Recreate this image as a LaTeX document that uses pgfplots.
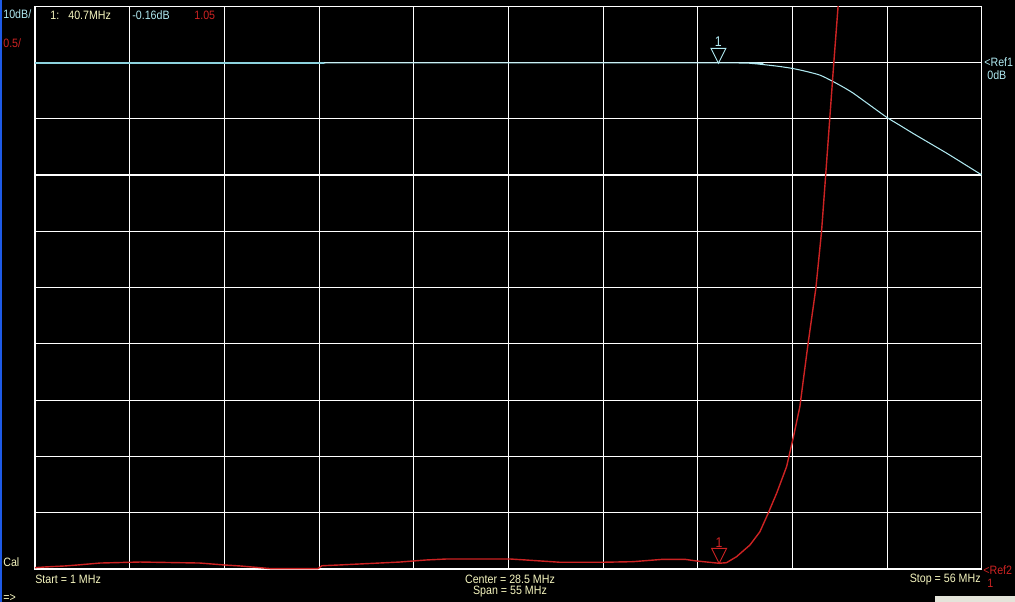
\documentclass[border=0pt]{standalone}
\usepackage{fontspec}
\setmainfont[FakeStretch=0.88]{Liberation Sans}
\usepackage{pgfplots}
\pgfplotsset{compat=1.18}

% analyser screen colours
\definecolor{scrbg}{RGB}{0,0,0}
\definecolor{tracecyan}{RGB}{175,232,240}
\definecolor{tracecyandim}{RGB}{140,210,222}
\definecolor{tracered}{RGB}{205,35,35}
\definecolor{txtyellow}{RGB}{245,245,190}
\definecolor{winblue}{RGB}{30,90,230}
\definecolor{btngray}{RGB}{228,228,218}

\pgfplotsset{screen/.style={
    at={(0.70cm,0.66cm)}, anchor=south west,
    width=18.94cm, height=11.26cm, scale only axis,
    xmin=1, xmax=56,
}}

\begin{document}
\begin{tikzpicture}[x=0.02cm, y=0.02cm,
    every node/.style={font=\fontsize{6.9}{8}\selectfont, inner sep=0pt}]
  \useasboundingbox (0,0) rectangle (1015,602);
  \fill[scrbg] (0,0) rectangle (1015,602);
  \fill[winblue] (0,0) rectangle (2,602);
  \fill[btngray] (935,0) rectangle (1015,6);

  % S21, 10 dB/div, Ref1 = 0 dB
  \begin{axis}[screen,
      ymin=-90, ymax=10,
      xtick={1,6.5,12,17.5,23,28.5,34,39.5,45,50.5,56},
      ytick={-90,-80,-70,-60,-50,-40,-30,-20,-10,0,10},
      xticklabels={}, yticklabels={},
      major tick length=0pt,
      grid=major, grid style={white, line width=0.6pt},
      axis line style={white, line width=0.6pt}]
    \addplot[tracecyandim, line width=0.6pt] coordinates {
      (1,-0.1) (17.8,-0.1)};
    \addplot[tracecyan, line width=0.6pt, smooth, tension=0.4] coordinates {
      (17.8,-0.1) (41.9,-0.1) (42.7,-0.2) (43.5,-0.45) (44.2,-0.7)
      (45.0,-1.07) (45.8,-1.6) (46.6,-2.26) (47.3,-3.3) (47.9,-4.3)
      (48.5,-5.4) (49.5,-7.6) (50.5,-9.8) (51.2,-11.1) (52.0,-12.6)
      (53.0,-14.4) (54.0,-16.2) (55.0,-18.1) (56,-20)};
    \draw[tracecyan, line width=0.5pt] (axis cs:40.7,-0.16)
      -- ++(-0.15cm,0.3cm) -- ++(0.3cm,0cm) -- cycle;
    \node[tracecyan, anchor=south, font=\fontsize{8}{9}\selectfont]
      at ([yshift=0.32cm]axis cs:40.7,-0.16) {1};
  \end{axis}

  % SWR, 0.5/div, Ref2 = 1
  \begin{axis}[screen, ymin=1, ymax=6, hide axis]
    \addplot[tracered, line width=0.8pt] coordinates {
      (1.0,1.012) (1.58,1.018) (2.74,1.027) (3.50,1.036) (4.78,1.053)
      (7.10,1.062) (10.58,1.053) (11.98,1.036) (12.91,1.027) (14.65,1.004)
      (17.44,1.004) (17.67,1.029) (18.71,1.036) (22.20,1.062) (23.71,1.080)
      (24.93,1.089) (28.59,1.089) (29.52,1.080) (31.49,1.060) (33.99,1.060)
      (35.73,1.065) (37.47,1.086) (38.75,1.086) (39.45,1.071) (40.74,1.051)
      (41.17,1.056) (41.75,1.109) (42.53,1.213) (43.11,1.331) (43.59,1.495)
      (44.08,1.672) (44.66,1.909) (45.04,2.161) (45.43,2.441) (45.91,3.004)
      (46.36,3.493) (46.69,3.996) (46.91,4.455) (47.40,5.491) (47.65,5.994)
      (47.70,6.10)};
    \draw[tracered, line width=0.5pt] (axis cs:40.74,1.05)
      -- ++(-0.15cm,0.3cm) -- ++(0.3cm,0cm) -- cycle;
    \node[tracered, anchor=south, font=\fontsize{8}{9}\selectfont]
      at ([yshift=0.32cm]axis cs:40.74,1.05) {1};
  \end{axis}

  % screen annotations
  \node[tracecyan, anchor=west] at (3,588) {10dB/};
  \node[tracered, anchor=west] at (3,559) {0.5/};
  \node[txtyellow, anchor=west] at (50,587) {1:};
  \node[txtyellow, anchor=west] at (68,587) {40.7MHz};
  \node[tracecyan, anchor=west] at (132,587) {-0.16dB};
  \node[tracered, anchor=west] at (194,587) {1.05};
  \node[tracecyan, anchor=west] at (984,540) {<Ref1};
  \node[tracecyan, anchor=west] at (987,527) {0dB};
  \node[txtyellow, anchor=west] at (3,40) {Cal};
  \node[txtyellow, anchor=west] at (35,23) {Start = 1 MHz};
  \node[txtyellow] at (510,23) {Center = 28.5 MHz};
  \node[txtyellow] at (510,10) {Span = 55 MHz};
  \node[txtyellow, anchor=east] at (981,22) {Stop = 56 MHz};
  \node[tracered, anchor=west] at (983,32) {<Ref2};
  \node[tracered, anchor=west] at (987,19) {1};
  \node[txtyellow, anchor=south west] at (3,0.5) {=>};
\end{tikzpicture}
\end{document}
